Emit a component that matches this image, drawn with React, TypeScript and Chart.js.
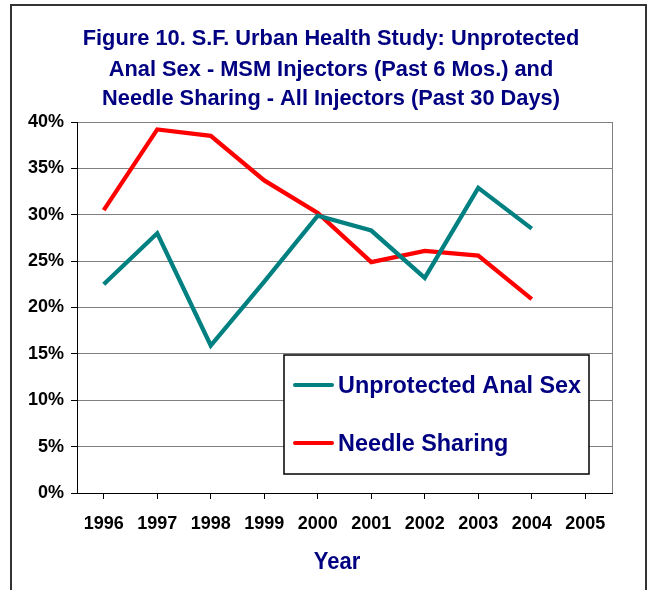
import React, { useEffect, useRef } from "react";
import { Chart, registerables } from "chart.js";

Chart.register(...registerables);

const years = ["1996", "1997", "1998", "1999", "2000", "2001", "2002", "2003", "2004", "2005"];
const unprotectedAnalSex = [22.5, 28.0, 15.9, 22.8, 29.9, 28.3, 23.2, 32.9, 28.5, null];
const needleSharing = [30.5, 39.2, 38.5, 33.7, 30.2, 24.9, 26.1, 25.6, 20.9, null];
const seriesLabels = ["Unprotected Anal Sex", "Needle Sharing"];
const seriesColors = ["#008080", "#FF0000"];
const titleLines = [
  "Figure 10. S.F. Urban Health Study: Unprotected",
  "Anal Sex - MSM Injectors (Past 6 Mos.) and",
  "Needle Sharing - All Injectors (Past 30 Days)",
];
const xAxisTitle = "Year";
const yMin = 0;
const yMax = 40;
const yStep = 5;

const FONT = "'Liberation Sans', Arial, sans-serif";
const NAVY = "#000080";

function tallText(ctx: any, t: string, x: number, y: number, sy: number) {
  ctx.save();
  ctx.translate(x, y);
  ctx.scale(1, sy);
  ctx.fillText(t, 0, 0);
  ctx.restore();
}

const decorPlugin = {
  id: "decor",
  beforeDraw(chart: any) {
    const { ctx, width, height } = chart;
    ctx.save();
    ctx.fillStyle = "#ffffff";
    ctx.fillRect(0, 0, width, height);
    ctx.restore();
  },
  afterDatasetsDraw(chart: any) {
    const { ctx, chartArea } = chart;
    ctx.save();
    // right border of plot area
    ctx.strokeStyle = "#808080";
    ctx.lineWidth = 1;
    ctx.beginPath();
    ctx.moveTo(Math.round(chartArea.right) + 0.5, chartArea.top);
    ctx.lineTo(Math.round(chartArea.right) + 0.5, chartArea.bottom);
    ctx.stroke();

    // legend box
    const lx = 284, ly = 355, lw = 305, lh = 119;
    ctx.fillStyle = "#ffffff";
    ctx.fillRect(lx, ly, lw, lh);
    ctx.strokeStyle = "#000000";
    ctx.lineWidth = 1.5;
    ctx.strokeRect(lx, ly, lw, lh);
    const rows = [385, 443];
    chart.data.datasets.forEach((ds: any, i: number) => {
      const y = rows[i];
      ctx.strokeStyle = ds.borderColor;
      ctx.lineWidth = 4;
      ctx.lineCap = "round";
      ctx.beginPath();
      ctx.moveTo(295, y);
      ctx.lineTo(332, y);
      ctx.stroke();
      ctx.fillStyle = NAVY;
      ctx.font = `bold 23.4px ${FONT}`;
      ctx.textBaseline = "middle";
      ctx.textAlign = "left";
      tallText(ctx, ds.label, 338, y + 1, 1.05);
    });
    ctx.restore();
  },
  afterDraw(chart: any) {
    const { ctx } = chart;
    ctx.save();
    // title
    ctx.fillStyle = NAVY;
    ctx.font = `bold 21.8px ${FONT}`;
    ctx.textAlign = "center";
    ctx.textBaseline = "middle";
    const ys = [39, 70, 99];
    titleLines.forEach((t, i) => ctx.fillText(t, 331, ys[i]));
    // x axis title
    ctx.font = `bold 22px ${FONT}`;
    tallText(ctx, xAxisTitle, 337, 563, 1.05);
    // outer border
    ctx.strokeStyle = "#333333";
    ctx.lineWidth = 2;
    ctx.beginPath();
    ctx.moveTo(11, 600);
    ctx.lineTo(11, 5);
    ctx.lineTo(646, 5);
    ctx.lineTo(646, 600);
    ctx.stroke();
    ctx.restore();
  },
};

export default function App() {
  const ref = useRef<HTMLCanvasElement | null>(null);
  useEffect(() => {
    if (!ref.current) return;
    const chart = new Chart(ref.current, {
      type: "line",
      data: {
        labels: years,
        datasets: [
          {
            label: seriesLabels[0],
            data: unprotectedAnalSex,
            borderColor: seriesColors[0],
            backgroundColor: seriesColors[0],
            borderWidth: 4.3,
            pointRadius: 0,
            tension: 0,
          },
          {
            label: seriesLabels[1],
            data: needleSharing,
            borderColor: seriesColors[1],
            backgroundColor: seriesColors[1],
            borderWidth: 4.3,
            pointRadius: 0,
            tension: 0,
          },
        ],
      },
      options: {
        animation: false,
        responsive: false,
        layout: { padding: { top: 122, right: 36, left: 0, bottom: 0 } },
        plugins: {
          legend: { display: false },
          title: { display: false },
          tooltip: { enabled: false },
        },
        scales: {
          x: {
            type: "category",
            offset: true,
            afterFit: (s: any) => {
              s.height = 97;
            },
            grid: {
              display: true,
              drawOnChartArea: false,
              drawTicks: true,
              tickLength: 6,
              color: "#000000",
              tickColor: "#000000",
            },
            border: { display: true, color: "#000000", width: 1 },
            ticks: {
              color: "#000000",
              font: { family: FONT, size: 18, weight: "bold" },
              padding: 14,
              maxRotation: 0,
              autoSkip: false,
            },
          },
          y: {
            min: yMin,
            max: yMax,
            afterFit: (s: any) => {
              s.width = 77;
            },
            grid: {
              color: "#808080",
              tickColor: "#000000",
              tickLength: 6,
            },
            border: { display: true, color: "#000000", width: 1 },
            ticks: {
              stepSize: yStep,
              color: "#000000",
              font: { family: FONT, size: 18, weight: "bold" },
              padding: 7,
              callback: (v: any) => `${v}%`,
            },
          },
        },
      },
      plugins: [decorPlugin],
    } as any);
    return () => chart.destroy();
  }, []);
  return (
    <div style={{ position: "absolute", left: 0, top: 0, width: 648, height: 590 }}>
      <canvas ref={ref} width={648} height={590} style={{ width: 648, height: 590, display: "block" }} />
    </div>
  );
}
